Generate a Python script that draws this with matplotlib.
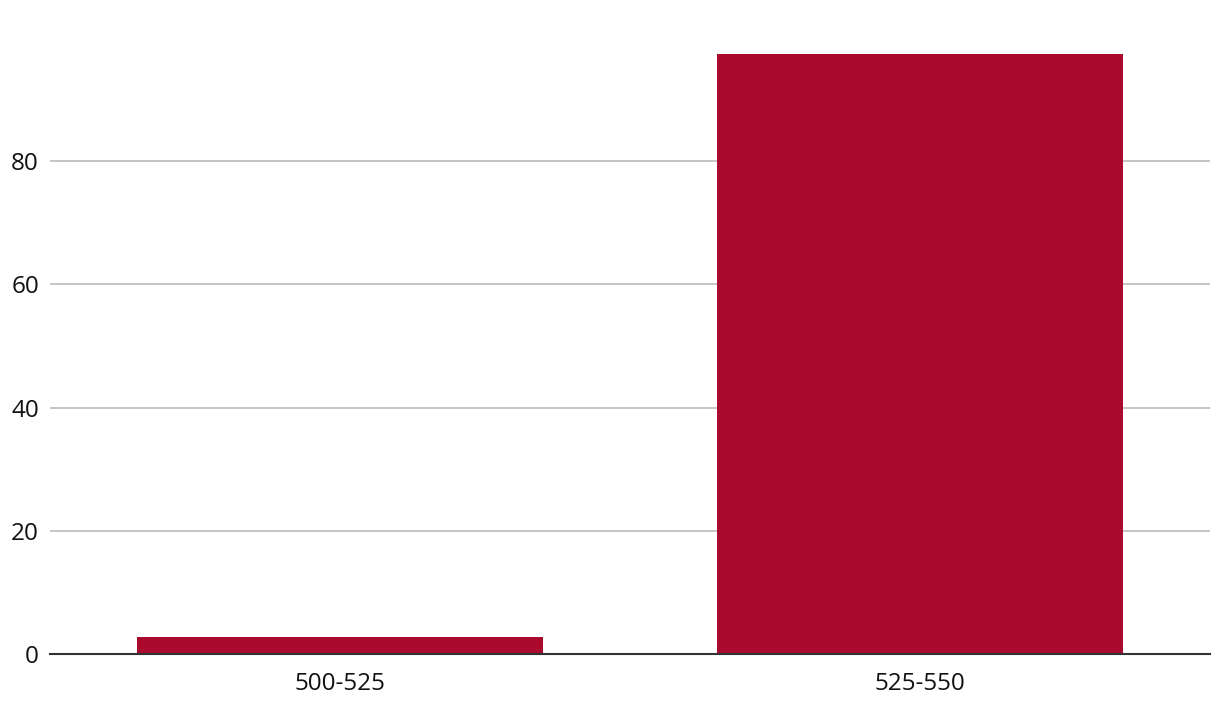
import matplotlib
matplotlib.use("Agg")
import matplotlib.pyplot as plt

categories = ["500-525", "525-550"]
values = [2.8, 97.4]
yticks = [0, 20, 40, 60, 80]

plt.rcParams['font.family'] = ['Open Sans', 'DejaVu Sans']

fig = plt.figure(figsize=(12.2, 7.16), dpi=100)
ax = fig.add_axes([50/1220, 1 - 654/716, 1160/1220, 600/716])

ax.bar(range(len(categories)), values, width=0.7, color="#A90A2E", zorder=3)
ax.set_xlim(-0.5, len(categories) - 0.5)
ax.set_ylim(0, 97.4)
ax.set_yticks(yticks)
ax.set_xticks(range(len(categories)))
ax.set_xticklabels(categories)
ax.yaxis.grid(True, color="#bbbbbb", linewidth=1.2, zorder=0)
ax.tick_params(length=0, labelsize=17.5, colors="#111111")
ax.tick_params(axis='y', pad=8)
ax.tick_params(axis='x', pad=13)
for s in ["top", "right", "left"]:
    ax.spines[s].set_visible(False)
ax.spines["bottom"].set_color("#333333")
ax.spines["bottom"].set_linewidth(1.5)
ax.spines["bottom"].set_zorder(4)

fig.savefig("out.png", dpi=100)
